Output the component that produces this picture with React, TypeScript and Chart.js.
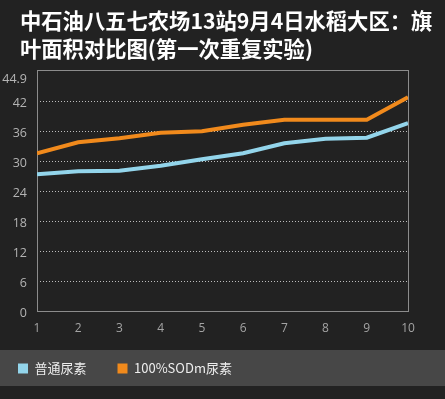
import { useEffect, useRef } from 'react';
import { Chart, registerables } from 'chart.js';

Chart.register(...registerables);

// ---- data ----
const categories = [1, 2, 3, 4, 5, 6, 7, 8, 9, 10];
const normalUrea = [27.4, 28.0, 28.1, 29.1, 30.4, 31.6, 33.6, 34.5, 34.7, 37.6];
const sodUrea = [31.6, 33.8, 34.6, 35.7, 36.0, 37.3, 38.3, 38.3, 38.3, 42.8];
const seriesNames = ['普通尿素', '100%SODm尿素'];
const yTickValues = [0, 6, 12, 18, 24, 30, 36, 42];
const yTopLabel = '44.9';
const titleLines = ['中石油八五七农场13站9月4日水稻大区：旗', '叶面积对比图(第一次重复实验)'];

const Y_MAX = 48.26;
const Y_TOP_TICK = 46.8;

const CJK = '"Noto Sans CJK SC", "Noto Sans", sans-serif';
const NUM = '"Open Sans", "Noto Sans", sans-serif';

const decorPlugin = {
  id: 'decor',
  afterLayout(chart: any) {
    if (chart.legend) {
      chart.legend.left = -13;
      chart.legend.top = 331;
    }
    if (chart.titleBlock) {
      chart.titleBlock.left = 20;
      chart.titleBlock.right = chart.width;
    }
  },
  beforeDraw(chart: any) {
    const { ctx, width, height } = chart;
    ctx.save();
    ctx.fillStyle = '#222222';
    ctx.fillRect(0, 0, width, height);
    ctx.fillStyle = '#474747';
    ctx.fillRect(0, 350, width, 36);
    ctx.restore();
  },
  beforeDatasetsDraw(chart: any) {
    const { ctx, chartArea } = chart;
    ctx.save();
    ctx.strokeStyle = '#8c8c8c';
    ctx.lineWidth = 1;
    ctx.strokeRect(
      Math.round(chartArea.left) + 0.5,
      Math.round(chartArea.top) + 0.5,
      Math.round(chartArea.right - chartArea.left),
      Math.round(chartArea.bottom - chartArea.top)
    );
    ctx.restore();
  },
};

export default function App() {
  const ref = useRef<HTMLCanvasElement | null>(null);

  useEffect(() => {
    document.body.style.margin = '0';
    document.body.style.background = '#222222';
    const canvas = ref.current;
    if (!canvas) return;
    const chart = new Chart(canvas, {
      type: 'line',
      data: {
        datasets: [
          {
            label: seriesNames[0],
            data: categories.map((c, i) => ({ x: c, y: normalUrea[i] })),
            borderColor: '#93d5eb',
            backgroundColor: '#93d5eb',
            borderWidth: 4,
            pointRadius: 0,
            tension: 0,
          },
          {
            label: seriesNames[1],
            data: categories.map((c, i) => ({ x: c, y: sodUrea[i] })),
            borderColor: '#f18a1c',
            backgroundColor: '#f18a1c',
            borderWidth: 4,
            pointRadius: 0,
            tension: 0,
          },
        ],
      },
      options: {
        animation: false,
        responsive: false,
        layout: { padding: { left: 0, right: 37, top: 0, bottom: 0 } },
        scales: {
          x: {
            type: 'linear',
            min: 1,
            max: 10,
            afterBuildTicks: (scale: any) => {
              scale.ticks = categories.map((v) => ({ value: v }));
            },
            afterFit: (scale: any) => {
              scale.height = 34;
            },
            grid: { display: false },
            border: { display: false },
            ticks: {
              color: '#a4a4a4',
              padding: 2,
              font: { family: NUM, size: 12 },
            },
          },
          y: {
            min: 0,
            max: Y_MAX,
            afterBuildTicks: (scale: any) => {
              scale.ticks = [...yTickValues, Y_TOP_TICK].map((v) => ({ value: v }));
            },
            afterFit: (scale: any) => {
              scale.width = 37;
            },
            grid: {
              drawTicks: false,
              lineWidth: 1,
              color: (c: any) =>
                c.tick && (c.tick.value === 0 || c.tick.value === Y_TOP_TICK)
                  ? 'rgba(0,0,0,0)'
                  : '#bdbdbd',
            },
            border: { display: false, dash: [1, 2] },
            ticks: {
              color: '#b4b4b4',
              padding: 10,
              labelOffset: 2,
              font: { family: NUM, size: 12.5 },
              callback: (v: any) => (v === Y_TOP_TICK ? yTopLabel : String(v)),
            },
          },
        },
        plugins: {
          title: {
            display: true,
            text: titleLines,
            align: 'start',
            color: '#ffffff',
            font: { family: CJK, size: 21.3, weight: 'bold', lineHeight: '28px' },
            padding: { top: 6.5, bottom: 7.5 },
          },
          legend: {
            display: true,
            position: 'bottom',
            align: 'start',
            labels: {
              boxWidth: 10,
              boxHeight: 10,
              padding: 31,
              color: '#eeeeee',
              font: { family: CJK, size: 13 },
              generateLabels: (ch: any) =>
                Chart.defaults.plugins.legend.labels
                  .generateLabels(ch)
                  .map((l: any) => ({ ...l, lineWidth: 0 })),
            },
          },
          tooltip: { enabled: false },
        },
      },
      plugins: [decorPlugin],
    } as any);
    return () => chart.destroy();
  }, []);

  return <canvas ref={ref} width={445} height={399} style={{ display: 'block' }} />;
}
